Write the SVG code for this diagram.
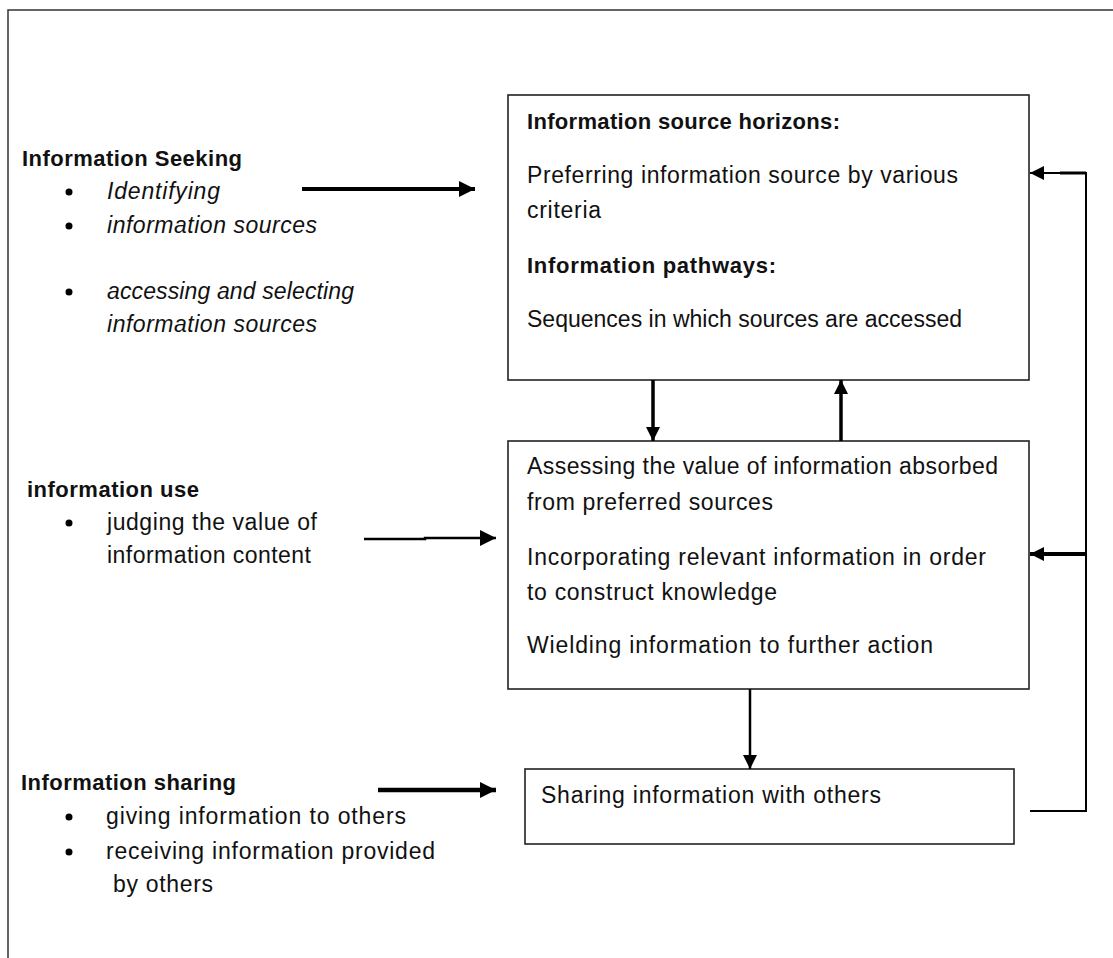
<svg xmlns="http://www.w3.org/2000/svg" width="1113" height="958" viewBox="0 0 1113 958">
<style>
text{font-family:"Liberation Sans",Arial,sans-serif;font-size:23px;fill:#111}
.b{font-weight:bold;font-size:22px}
.i{font-style:italic}
.box{fill:#fff;stroke:#222;stroke-width:1.6}
.c{fill:none;stroke:#000}
.dot{fill:#000}
</style>
<defs>
<marker id="ah" markerUnits="userSpaceOnUse" markerWidth="18" markerHeight="18" refX="16" refY="8" orient="auto"><path d="M0,0 L16,8 L0,16 z" fill="#000"/></marker>
<marker id="ahs" markerUnits="userSpaceOnUse" markerWidth="18" markerHeight="18" refX="14" refY="7" orient="auto"><path d="M0,0 L14,7 L0,14 z" fill="#000"/></marker>
</defs>
<rect x="8" y="10" width="1200" height="1000" fill="none" stroke="#333" stroke-width="1.5"/>

<g id="seeking">
<text x="22" y="166" class="b" textLength="220">Information Seeking</text>
<circle class="dot" cx="69" cy="192" r="3.5"/>
<text x="107" y="199" class="i" textLength="113">Identifying</text>
<circle class="dot" cx="69" cy="226" r="3.5"/>
<text x="107" y="233" class="i" textLength="210">information sources</text>
<circle class="dot" cx="69" cy="292" r="3.5"/>
<text x="107" y="299" class="i" textLength="247">accessing and selecting</text>
<text x="107" y="332" class="i" textLength="210">information sources</text>
</g>

<g id="use">
<text x="27" y="497" class="b" textLength="172">information use</text>
<circle class="dot" cx="69" cy="523" r="3.5"/>
<text x="107" y="530" textLength="210">judging the value of</text>
<text x="107" y="563" textLength="204">information content</text>
</g>

<g id="sharing">
<text x="21" y="790" class="b" textLength="215">Information sharing</text>
<circle class="dot" cx="69" cy="817" r="3.5"/>
<text x="106" y="824" textLength="300">giving information to others</text>
<circle class="dot" cx="69" cy="852" r="3.5"/>
<text x="106" y="859" textLength="329">receiving information provided</text>
<text x="113" y="892" textLength="100">by others</text>
</g>

<g id="sources-box">
<rect class="box" x="508" y="95" width="521" height="285"/>
<text x="527" y="129" class="b" textLength="313">Information source horizons:</text>
<text x="527" y="183" textLength="431">Preferring information source by various</text>
<text x="527" y="218" textLength="74">criteria</text>
<text x="527" y="273" class="b" textLength="249">Information pathways:</text>
<text x="527" y="327" textLength="435">Sequences in which sources are accessed</text>
</g>

<g id="use-box">
<rect class="box" x="508" y="441" width="521" height="248"/>
<text x="527" y="474" textLength="471">Assessing the value of information absorbed</text>
<text x="527" y="510" textLength="246">from preferred sources</text>
<text x="527" y="565" textLength="459">Incorporating relevant information in order</text>
<text x="527" y="600" textLength="250">to construct knowledge</text>
<text x="527" y="653" textLength="406">Wielding information to further action</text>
</g>

<g id="sharing-box">
<rect class="box" x="525" y="769" width="489" height="75"/>
<text x="541" y="803" textLength="340">Sharing information with others</text>
</g>

<g id="connectors">
<line class="c" x1="302" y1="189" x2="475" y2="189" stroke-width="4" marker-end="url(#ah)"/>
<path class="c" d="M364,539 H425 V538 H496" stroke-width="2.5" marker-end="url(#ah)"/>
<line class="c" x1="378" y1="790" x2="496" y2="790" stroke-width="4.5" marker-end="url(#ah)"/>
<line class="c" x1="653" y1="380" x2="653" y2="441" stroke-width="3.5" marker-end="url(#ahs)"/>
<line class="c" x1="841" y1="441" x2="841" y2="380" stroke-width="3.5" marker-end="url(#ahs)"/>
<line class="c" x1="750" y1="689" x2="750" y2="769" stroke-width="2.5" marker-end="url(#ahs)"/>
<path class="c" d="M1030,811 H1086 V173 H1030" stroke-width="2" marker-end="url(#ahs)"/>
<path class="c" d="M1086,173 H1060" stroke-width="3"/>
<line class="c" x1="1086" y1="554" x2="1030" y2="554" stroke-width="4" marker-end="url(#ahs)"/>
</g>
</svg>
